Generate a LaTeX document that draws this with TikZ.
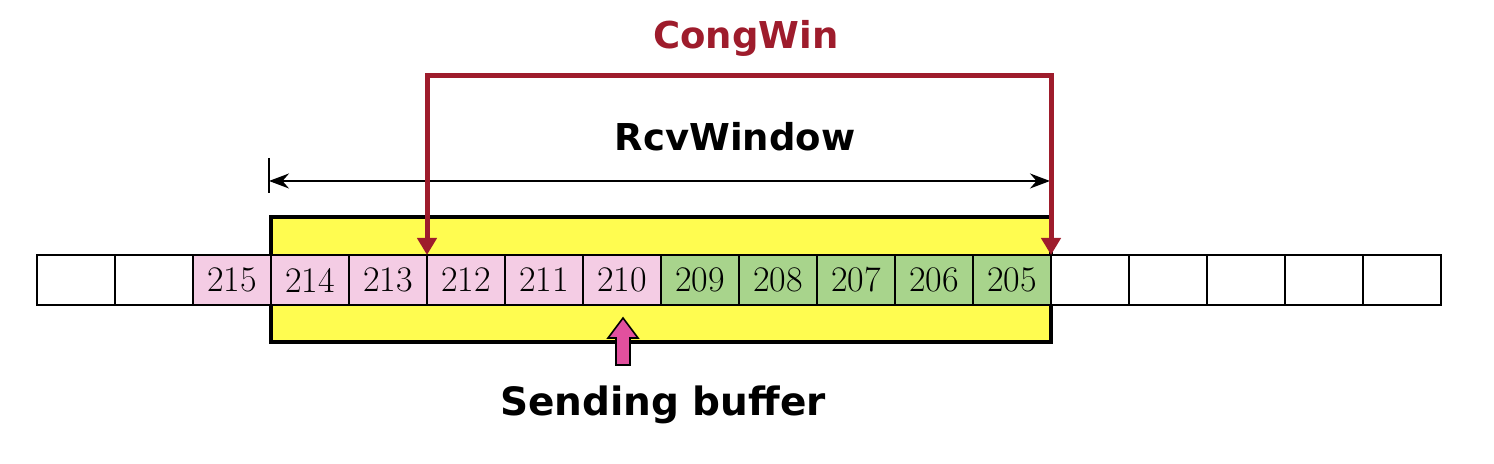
\documentclass[tikz,border=0pt]{standalone}
\usepackage{fontspec}
\newfontfamily\labelfont{DejaVu Sans}
\usetikzlibrary{arrows.meta,calc,positioning}
\definecolor{cellpink}{HTML}{F4CCE4}
\definecolor{cellgreen}{HTML}{A8D48C}
\definecolor{winyellow}{HTML}{FFFC50}
\definecolor{congred}{HTML}{9E1C2C}
\definecolor{bufpink}{HTML}{E2509E}

\begin{document}
\begin{tikzpicture}[x=0.5pt,y=0.5pt]
    \tikzset{cell/.style = {draw, line width=0.8pt,
        minimum width=39pt, minimum height=25pt,
        inner sep=0pt, outer sep=0pt,
        font=\fontsize{18}{20}\selectfont},
      title/.style = {font=\labelfont\bfseries\fontsize{18.5}{22}\selectfont},
      congline/.style = {{Triangle[length=8.5pt,width=9.5pt]}-{Triangle[length=8.5pt,width=9.5pt]},
        draw=congred, line width=2.5pt},
      rcvline/.style = {{Stealth[length=10pt,width=7.5pt]}-{Stealth[length=10pt,width=7.5pt]},
        line width=0.7pt}}
    \useasboundingbox (0,0) rectangle (1494,464);
    % window and buffer cells
    \node[draw, line width=2pt, fill=winyellow, inner sep=0pt,
      minimum width=390pt, minimum height=62.5pt] (ybox) at (661,184.5) {};
    \foreach \i/\lab/\col in {0//white,1//white,2/215/cellpink,3/214/cellpink,
        4/213/cellpink,5/212/cellpink,6/211/cellpink,7/210/cellpink,
        8/209/cellgreen,9/208/cellgreen,10/207/cellgreen,11/206/cellgreen,
        12/205/cellgreen,13//white,14//white,15//white,16//white,17//white}
      \node[cell, fill=\col] (c\i) at (76+78*\i,184) {\lab};
    % RcvWindow
    \coordinate (rw-l) at ($(ybox.north west)+(0,34)$);
    \coordinate (rw-r) at ($(ybox.north east)+(-3,34)$);
    \coordinate (tick-t) at ($(ybox.north west)+(0,57)$);
    \coordinate (tick-b) at ($(ybox.north west)+(0,22)$);
    \draw[line width=0.8pt] (tick-t) -- (tick-b);
    \draw[rcvline] (rw-l) -- (rw-r);
    \node[title] (rcv) at (735,327) {RcvWindow};
    % CongWin
    \coordinate (cw-top) at (740,388);
    \draw[congline] (c4.north east) |- (cw-top) -| (c12.north east);
    \node[title, text=congred] (cong) at (746,426) {CongWin};
    % sending buffer pointer
    \coordinate (sb-tip) at (623,146);
    \draw[fill=bufpink, line width=0.8pt, line join=miter] (sb-tip) -- ++(15,-20) -- ++(-8,0)
      -- ++(0,-27) -- ++(-14,0) -- ++(0,27) -- ++(-8,0) -- cycle;
    \node[title, font=\labelfont\bfseries\fontsize{19.5}{22}\selectfont] (sb) at (663,59) {Sending buffer};
\end{tikzpicture}
\end{document}
